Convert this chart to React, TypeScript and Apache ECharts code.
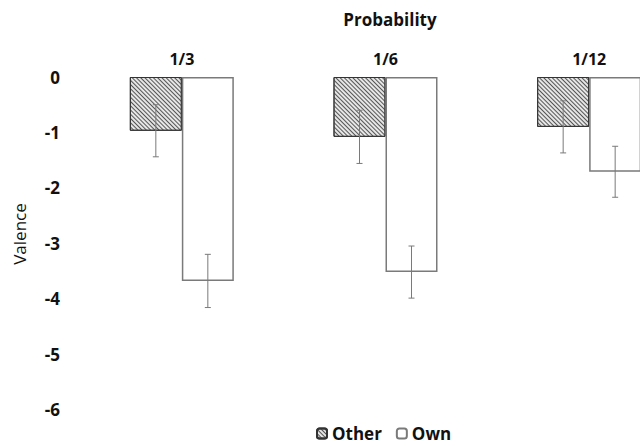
import React, { useEffect, useRef } from "react";
import * as echarts from "echarts";

const categories = ["1/3", "1/6", "1/12"];
const otherMean = [-0.97, -1.08, -0.9];
const otherSE = [0.47, 0.48, 0.47];
const ownMean = [-3.68, -3.52, -1.71];
const ownSE = [0.48, 0.47, 0.46];
const yTicks = [0, -1, -2, -3, -4, -5, -6];

const FONT = "'Open Sans'";
const BAR_W = 52;

export default function App() {
  const ref = useRef<HTMLDivElement>(null);
  useEffect(() => {
    if (!ref.current) return;
    const chart = echarts.init(ref.current, undefined, { renderer: "svg" });
    const errData = (mean: number[], se: number[]) =>
      mean.map((m, i) => [i, m - se[i], m + se[i]]);
    const errSeries = (name: string, mean: number[], se: number[], offset: number) => ({
      type: "custom",
      name: name + " err",
      data: errData(mean, se),
      z: 10,
      encode: { x: 0, y: [1, 2] },
      renderItem: (params: any, api: any) => {
        const i = api.value(0);
        const lo = api.coord([i, api.value(1)]);
        const hi = api.coord([i, api.value(2)]);
        const cx = lo[0] + offset;
        const cap = 3;
        const style = { stroke: "#7a7a7a", lineWidth: 1 };
        return {
          type: "group",
          children: [
            { type: "line", shape: { x1: cx, y1: lo[1], x2: cx, y2: hi[1] }, style },
            { type: "line", shape: { x1: cx - cap, y1: lo[1], x2: cx + cap, y2: lo[1] }, style },
            { type: "line", shape: { x1: cx - cap, y1: hi[1], x2: cx + cap, y2: hi[1] }, style },
          ],
        };
      },
    });
    chart.setOption({
      animation: false,
      backgroundColor: "#fff",
      title: {
        text: "Probability",
        left: 385,
        textAlign: "center",
        top: 6,
        textStyle: { fontFamily: FONT, fontWeight: "bold", fontSize: 17, color: "#111" },
      },
      graphic: [
        {
          type: "text",
          x: 19,
          y: 234,
          rotation: Math.PI / 2,
          style: {
            text: "Valence",
            fontFamily: FONT,
            fontSize: 17,
            fill: "#111",
            align: "center",
            verticalAlign: "middle",
          },
        },
      ],
      legend: {
        data: ["Other", "Own"],
        left: 311,
        top: 420,
        padding: [5, 5, 0, 5],
        itemWidth: 10,
        itemHeight: 10,
        itemGap: 14,
        textStyle: {
          fontFamily: FONT,
          fontWeight: "bold",
          fontSize: 17,
          lineHeight: 16,
          color: "#111",
        },
      },
      grid: {
        left: 80,
        width: 611,
        top: 77,
        height: 332.5,
        outerBoundsMode: "none",
        containLabel: false,
      },
      xAxis: {
        type: "category",
        position: "top",
        data: categories,
        axisLine: { show: false },
        axisTick: { show: false },
        axisLabel: { fontFamily: FONT, fontWeight: "bold", fontSize: 16, color: "#111", margin: 10 },
      },
      yAxis: {
        type: "value",
        min: yTicks[yTicks.length - 1],
        max: yTicks[0],
        interval: 1,
        axisLine: { show: false },
        axisTick: { show: false },
        splitLine: { show: false },
        axisLabel: { fontFamily: FONT, fontWeight: "bold", fontSize: 17, color: "#111", margin: 20 },
      },
      series: [
        {
          type: "bar",
          name: "Other",
          data: otherMean,
          barWidth: BAR_W,
          barGap: "0%",
          itemStyle: {
            color: "#e6e6e6",
            borderColor: "#333",
            borderWidth: 1,
            decal: {
              symbol: "rect",
              symbolSize: 1,
              dashArrayX: [1, 0],
              dashArrayY: [1, 2],
              rotation: Math.PI / 4,
              color: "#555",
            },
          },
        },
        {
          type: "bar",
          name: "Own",
          data: ownMean,
          barWidth: BAR_W,
          itemStyle: { color: "#fff", borderColor: "#7a7a7a", borderWidth: 1.5 },
        },
        errSeries("Other", otherMean, otherSE, -BAR_W / 2),
        errSeries("Own", ownMean, ownSE, BAR_W / 2),
      ],
    });
    return () => chart.dispose();
  }, []);
  return (
    <div
      ref={ref}
      style={{ width: 640, height: 447, position: "absolute", left: 0, top: 0 }}
    />
  );
}
